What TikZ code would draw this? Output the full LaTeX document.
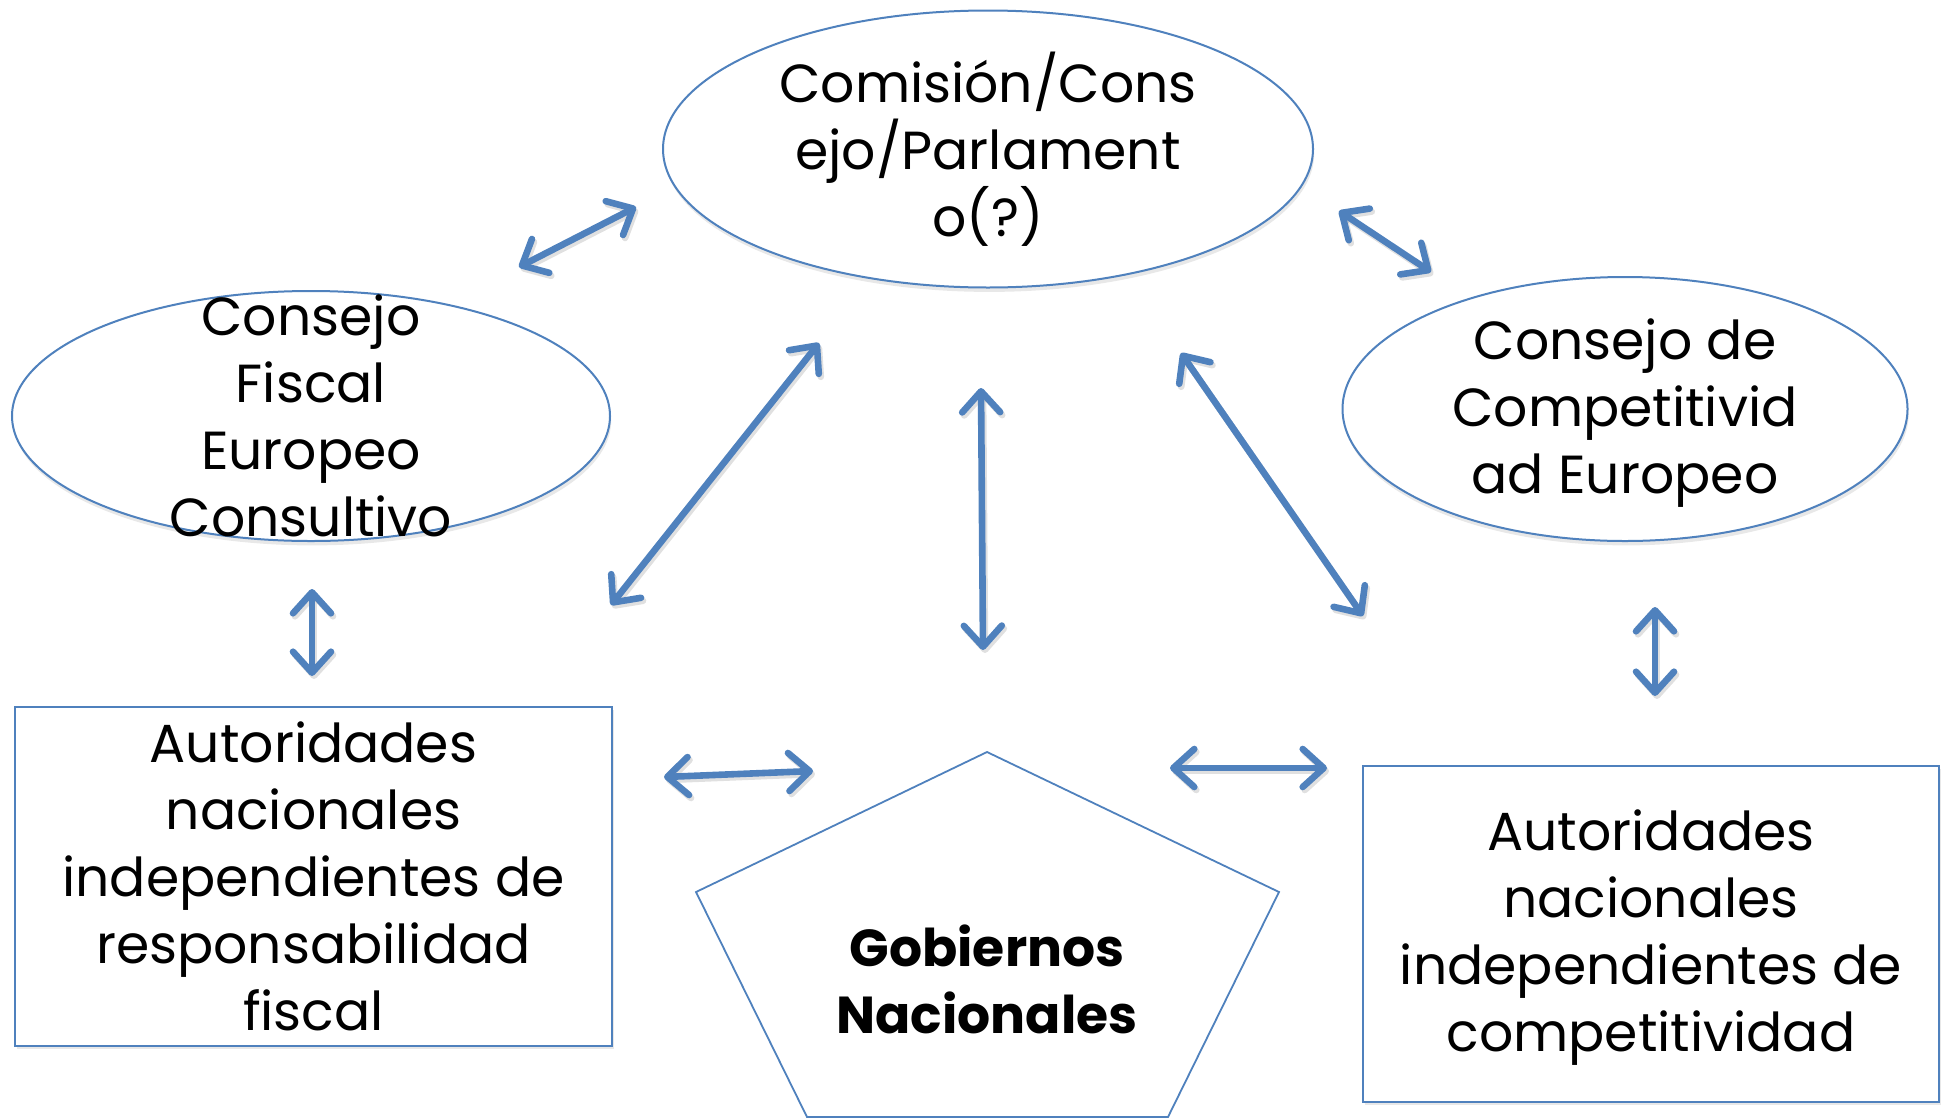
\documentclass[tikz,border=0pt]{standalone}
\usepackage{fontspec}
\setmainfont{Poppins}
\usetikzlibrary{arrows.meta,shapes.geometric,shadows}
\definecolor{olblue}{HTML}{4F81BD}
\tikzset{
  ell/.style={ellipse, draw=olblue, line width=1pt, fill=white, inner sep=0pt,
    drop shadow={opacity=0.18, shadow xshift=0.6pt, shadow yshift=-2.2pt}},
  boxn/.style={rectangle, draw=olblue, line width=1pt, fill=white, inner sep=0pt,
    drop shadow={opacity=0.18, shadow xshift=1pt, shadow yshift=-1.5pt}},
  txt/.style={align=center, inner sep=0pt, text=black},
  biarrow/.style={draw=olblue, line width=3.3pt,
    {Straight Barb[round,length=10.5pt,width=19pt]}-{Straight Barb[round,length=10.5pt,width=19pt]}},
  arrshadow/.style={biarrow, draw=black, opacity=0.12, transform canvas={xshift=1pt, yshift=-1.5pt}},
}
\begin{document}
\begin{tikzpicture}[x=0.5pt,y=-0.5pt, font=\fontsize{26.8}{33.5}\selectfont]
\useasboundingbox (0,0) rectangle (1941,1119);

% shapes
\node[ell, minimum width=325pt, minimum height=138.5pt] (com) at (988,149) {};
\node[ell, minimum width=299pt, minimum height=125pt] (cfe) at (311,416) {};
\node[ell, minimum width=282.5pt, minimum height=132pt] (cce) at (1625,409) {};
\node[boxn, minimum width=298.5pt, minimum height=169.5pt] (anf) at (313.5,876.5) {};
\node[boxn, minimum width=288pt, minimum height=168pt] (anc) at (1651,934) {};

% pentagon
\coordinate (p1) at (987,752);
\coordinate (p2) at (1279,892);
\coordinate (p3) at (1168,1117);
\coordinate (p4) at (807,1117);
\coordinate (p5) at (696,892);
\draw[olblue, line width=0.9pt, fill=white, line join=miter] (p1) -- (p2) -- (p3) -- (p4) -- (p5) -- cycle;

% texts
\node[txt] (comt) at (com.center) {Comisión/Cons\\ejo/Parlament\\o(?)};
\node[txt] (cfet) at (cfe.center) {Consejo\\Fiscal\\Europeo\\Consultivo};
\node[txt] (ccet) at ([yshift=-2pt]cce.center) {Consejo de\\Competitivid\\ad Europeo};
\node[txt] (anft) at (anf.center) {Autoridades\\nacionales\\independientes de\\responsabilidad\\fiscal};
\node[txt] (anct) at ([yshift=-2pt]anc.center) {Autoridades\\nacionales\\independientes de\\competitividad};
\node[txt, font=\fontsize{26}{33.5}\selectfont\bfseries] (gob) at (987,979) {Gobiernos\\Nacionales};

% arrow end points
\coordinate (a1s) at (519,267);  \coordinate (a1e) at (636,207);
\coordinate (a2s) at (1339,211); \coordinate (a2e) at (1431,272);
\coordinate (a3s) at (312,589);  \coordinate (a3e) at (312,676);
\coordinate (a4s) at (611,605);  \coordinate (a4e) at (819,343);
\coordinate (a5s) at (981,388);  \coordinate (a5e) at (983,650);
\coordinate (a6s) at (1181,353); \coordinate (a6e) at (1363,616);
\coordinate (a7s) at (1655,607); \coordinate (a7e) at (1655,696);
\coordinate (a8s) at (664,777);  \coordinate (a8e) at (813,771);
\coordinate (a9s) at (1170,768); \coordinate (a9e) at (1327,768);

\foreach \i in {1,...,9}{
  \draw[arrshadow] (a\i s) -- (a\i e);
  \draw[biarrow] (a\i s) -- (a\i e);
}
\end{tikzpicture}
\end{document}
